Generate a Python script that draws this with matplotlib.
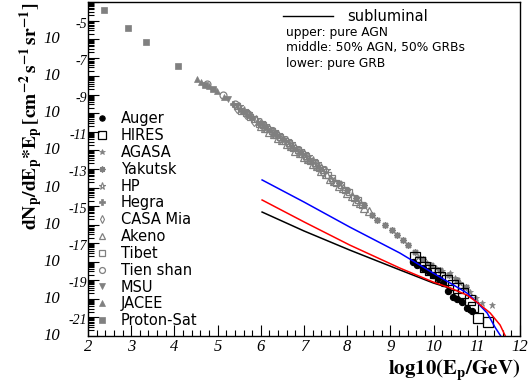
import numpy as np
import matplotlib
matplotlib.use('Agg')
import matplotlib.pyplot as plt
from matplotlib.lines import Line2D
from matplotlib.ticker import MultipleLocator, LogLocator, NullFormatter

plt.rcParams['mathtext.fontset'] = 'stix'

# all values: x = log10(E/GeV), y = log10(flux)
auger_x = [9.52, 9.62, 9.75, 9.87, 9.99, 10.10, 10.22, 10.34, 10.45, 10.55, 10.66, 10.77, 10.89]
auger_y = [-17.01, -17.15, -17.34, -17.52, -17.71, -17.90, -18.14, -18.55, -18.90, -19.02, -19.17, -19.49, -19.65]

hires_x = [9.57, 9.69, 9.80, 9.92, 10.03, 10.15, 10.31, 10.45, 10.56, 10.68, 10.84, 10.91, 11.03, 11.26]
hires_y = [-16.74, -17.01, -17.28, -17.44, -17.61, -17.82, -17.98, -18.25, -18.41, -18.68, -19.06, -19.44, -20.03, -20.25]

agasa_x = [9.65, 9.85, 10.05, 10.20, 10.38, 10.50, 10.61, 10.72, 10.84, 10.98, 11.12, 11.35]
agasa_y = [-16.75, -17.05, -17.35, -17.50, -17.61, -17.90, -18.14, -18.40, -18.63, -18.95, -19.22, -19.33]

yakutsk_x = [7.80, 8.00, 8.20, 8.40, 8.57, 8.69, 8.88, 9.04, 9.15, 9.29, 9.41, 9.57, 9.75, 9.95, 10.15, 10.35, 10.55, 10.75]
yakutsk_y = [-12.75, -13.15, -13.55, -13.95, -14.48, -14.75, -15.02, -15.29, -15.56, -15.83, -16.10, -16.47, -16.85, -17.15, -17.45, -17.70, -18.00, -18.35]

hp_x = [5.5, 5.6, 5.7, 5.8, 5.9, 6.0, 6.1, 6.2, 6.3, 6.4, 6.5, 6.6, 6.7, 6.8, 6.9, 7.0, 7.1, 7.2, 7.3, 7.4, 7.5]
hp_y = [-8.60, -8.80, -8.98, -9.18, -9.30, -9.48, -9.62, -9.80, -9.94, -10.12, -10.26, -10.45, -10.60, -10.80,
        -10.95, -11.15, -11.31, -11.52, -11.69, -11.90, -12.08]

hegra_x = [5.35, 5.55, 5.75, 5.95, 6.15, 6.35, 6.55, 6.75, 6.95, 7.15, 7.35]
hegra_y = [-8.50, -8.85, -9.22, -9.55, -9.85, -10.18, -10.50, -10.85, -11.18, -11.55, -11.95]

casa_x = [5.45, 5.65, 5.85, 6.05, 6.25, 6.45, 6.65, 6.85, 7.05, 7.25, 7.45, 7.65]
casa_y = [-8.75, -9.10, -9.45, -9.75, -10.08, -10.40, -10.75, -11.10, -11.45, -11.82, -12.22, -12.62]

akeno_x = [6.0, 6.1, 6.2, 6.3, 6.4, 6.5, 6.6, 6.7, 6.8, 6.9, 7.0, 7.1, 7.2, 7.3, 7.4, 7.5, 7.6, 7.7, 7.8, 7.9,
           8.0, 8.1, 8.2, 8.3, 8.4, 8.5]
akeno_y = [-9.70, -9.80, -10.02, -10.12, -10.34, -10.44, -10.67, -10.78, -11.02, -11.13, -11.37, -11.48, -11.74,
           -11.86, -12.12, -12.25, -12.52, -12.65, -12.92, -13.05, -13.32, -13.45, -13.72, -13.85, -14.12, -14.25]

tibet_x = [5.45, 5.55, 5.65, 5.75, 5.85, 5.95, 6.05, 6.15, 6.25, 6.35, 6.45, 6.55, 6.65, 6.75, 6.85,
           6.95, 7.05, 7.15, 7.25, 7.35, 7.45, 7.55, 7.65, 7.75, 7.85, 7.95, 8.05, 8.15, 8.25, 8.35]
tibet_y = [-8.60, -8.85, -8.98, -9.22, -9.32, -9.55, -9.63, -9.85, -9.95, -10.18, -10.28, -10.50, -10.60, -10.85, -10.95,
           -11.20, -11.30, -11.58, -11.68, -11.95, -12.06, -12.35, -12.46, -12.75, -12.86, -13.15, -13.26, -13.55, -13.66, -13.95]

tienshan_x = [4.75, 5.12, 5.40, 5.70, 6.00, 6.30]
tienshan_y = [-7.42, -8.00, -8.50, -9.05, -9.60, -10.05]

msu_x = [5.25, 5.45, 5.65]
msu_y = [-8.25, -8.62, -9.00]

jacee_x = [4.52, 4.62, 4.80, 4.98, 5.15]
jacee_y = [-7.15, -7.30, -7.55, -7.82, -8.10]

protonsat_x = [2.37, 2.93, 3.34, 4.08, 4.70, 4.90]
protonsat_y = [-3.44, -4.41, -5.16, -6.45, -7.45, -7.70]

# model curves
upper_x = [6.03, 7.00, 8.06, 9.22, 9.99, 10.40, 10.77, 11.00, 11.24, 11.42, 11.54, 11.58]
upper_y = [-12.59, -13.78, -15.13, -16.53, -17.61, -18.17, -18.68, -19.17, -19.76, -20.52, -20.95, -21.10]
middle_x = [6.03, 7.00, 8.06, 9.22, 9.99, 10.38, 10.77, 11.00, 11.31, 11.54, 11.65, 11.68]
middle_y = [-13.67, -14.85, -16.10, -17.34, -18.09, -18.41, -18.79, -19.17, -19.76, -20.41, -20.95, -21.10]
lower_x = [6.03, 7.00, 8.06, 9.22, 9.99, 10.40]
lower_y = [-14.32, -15.34, -16.37, -17.44, -18.14, -18.44]

x_ticks = [2, 3, 4, 5, 6, 7, 8, 9, 10, 11, 12]
y_label_exps = [-5, -7, -9, -11, -13, -15, -17, -19, -21]

gray = '#808080'

fig = plt.figure(figsize=(5.31, 3.85), dpi=100)
ax = fig.add_axes([88/531, 1 - 336/385, 432/531, 334/385])
ax.set_yscale('log')
ax.set_xlim(2, 12)
ax.set_ylim(1e-21, 1e-3)


def pts(x, y):
    return np.array(x), 10.0 ** np.array(y)


sets = [
    ('Auger', auger_x, auger_y, dict(marker='o', color='k', mfc='k', ms=4.5, mew=0.8)),
    ('HIRES', hires_x, hires_y, dict(marker='s', color='k', mfc='none', ms=6.5, mew=0.9)),
    ('AGASA', agasa_x, agasa_y, dict(marker='*', color=gray, mfc=gray, ms=5, mew=0.5)),
    ('Yakutsk', yakutsk_x, yakutsk_y, dict(marker=(8, 2, 0), color=gray, ms=5, mew=1.0)),
    ('HP', hp_x, hp_y, dict(marker='*', color=gray, mfc='none', ms=6, mew=0.8)),
    ('Hegra', hegra_x, hegra_y, dict(marker='P', color=gray, mfc=gray, ms=5, mew=0.5)),
    ('CASA Mia', casa_x, casa_y, dict(marker='d', color=gray, mfc='none', ms=4.5, mew=0.8)),
    ('Akeno', akeno_x, akeno_y, dict(marker='^', color=gray, mfc='none', ms=5.5, mew=0.9)),
    ('Tibet', tibet_x, tibet_y, dict(marker='s', color=gray, mfc='none', ms=5, mew=0.9)),
    ('Tien shan', tienshan_x, tienshan_y, dict(marker='o', color=gray, mfc='none', ms=5, mew=0.9)),
    ('MSU', msu_x, msu_y, dict(marker='v', color=gray, mfc=gray, ms=5, mew=0.5)),
    ('JACEE', jacee_x, jacee_y, dict(marker='^', color=gray, mfc=gray, ms=5, mew=0.5)),
    ('Proton-Sat', protonsat_x, protonsat_y, dict(marker='s', color=gray, mfc=gray, ms=4.5, mew=0.5)),
]

handles = []
# gray data first, then black points on top
for name, x, y, st in sets[::-1]:
    xx, yy = pts(x, y)
    ax.plot(xx, yy, ls='none', **st)
for name, x, y, st in sets:
    handles.append(Line2D([], [], ls='none', label=name, **st))

xx, yy = pts(lower_x, lower_y)
ax.plot(xx, yy, color='k', lw=1.1)
xx, yy = pts(upper_x, upper_y)
ax.plot(xx, yy, color='#0000ff', lw=1.1)
xx, yy = pts(middle_x, middle_y)
ax.plot(xx, yy, color='#ff0000', lw=1.1)

leg = ax.legend(handles=handles, loc='upper left', bbox_to_anchor=(0.0, 0.69),
                frameon=False, handlelength=1.15, handletextpad=0.7, markerscale=0.85,
                labelspacing=0.125, borderpad=0, borderaxespad=0.4,
                prop={'family': 'DejaVu Sans', 'size': 10.5})
ax.add_artist(leg)

sub = ax.legend(handles=[Line2D([], [], color='k', lw=1.0)], labels=['subluminal'],
                loc='upper left', bbox_to_anchor=(0.451, 0.978), frameon=False,
                handlelength=3.43, handletextpad=1.0, borderpad=0, borderaxespad=0,
                prop={'family': 'DejaVu Sans', 'size': 10.5})
for i, s in enumerate(['upper: pure AGN', 'middle: 50% AGN, 50% GRBs', 'lower: pure GRB']):
    ax.text(0.458, 0.91 - i * 0.0464, s, transform=ax.transAxes, fontsize=8.8,
            family='DejaVu Sans', va='center', ha='left')

# axes ticks
ax.xaxis.set_minor_locator(MultipleLocator(0.2))
ax.set_xticks(x_ticks)
ax.set_xticklabels([str(t) for t in x_ticks], fontfamily='Liberation Serif',
                   fontstyle='italic', fontsize=12)
ax.yaxis.set_major_locator(LogLocator(base=10, numticks=40))
ax.yaxis.set_minor_locator(LogLocator(base=10, subs=np.arange(2, 10), numticks=40))
ax.yaxis.set_minor_formatter(NullFormatter())
ax.tick_params(which='both', direction='in', top=False, right=False, width=0.8)
ax.tick_params(which='major', length=8)
ax.tick_params(which='minor', length=4)
ax.tick_params(axis='x', pad=2)
ax.tick_params(axis='y', labelleft=False)
for s in ax.spines.values():
    s.set_linewidth(1.0)

for e in y_label_exps:
    ax.annotate('10', xy=(0, 10.0 ** e), xycoords=('axes fraction', 'data'),
                xytext=(-28, 0), textcoords='offset pixels', ha='right', va='center',
                fontfamily='Liberation Serif', fontstyle='italic', fontsize=12)
    ax.annotate(str(e), xy=(0, 10.0 ** e), xycoords=('axes fraction', 'data'),
                xytext=(-1, 15), textcoords='offset pixels', ha='right', va='center',
                fontfamily='Liberation Serif', fontstyle='italic', fontsize=10)

ax.set_xlabel(r'$\mathbf{log10(E_{p}/GeV)}$', fontsize=15, loc='right', labelpad=2)
ax.set_ylabel(r'$\mathbf{dN_{p}/dE_{p}{*}E_{p}\,[cm^{-2}\,s^{-1}\,sr^{-1}]}$', fontsize=14, loc='top')
ax.yaxis.set_label_coords(-0.10, 1.0)

fig.savefig('out.png', dpi=100)
